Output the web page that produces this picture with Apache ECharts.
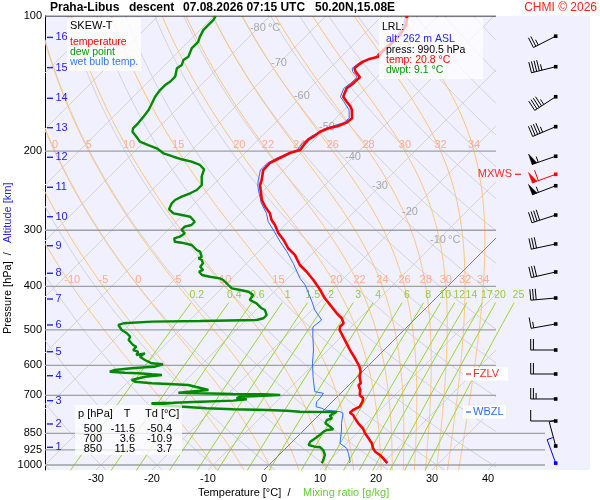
<!DOCTYPE html>
<html><head><meta charset="utf-8">
<script src="https://cdn.jsdelivr.net/npm/echarts@6/dist/echarts.min.js"></script>
<style>html,body{margin:0;padding:0;background:#fff}#c{width:600px;height:500px}</style>
</head><body><div id="c"></div>
<script>
// ---------------- DATA (pressure hPa, temperature °C) ----------------
const tempProfile = [[100,-55.5],[104.7,-54.1],[110.2,-53.4],[116.1,-53.4],[120.9,-53.6],[123.2,-53.4],[124.9,-54.7],[126.4,-55.2],[128.5,-55.5],[130.7,-55.6],[133.0,-54.8],[136.9,-53.0],[138.8,-53.1],[141.3,-53.1],[144.9,-53.4],[151.3,-52.5],[155.2,-51.0],[158.7,-49.6],[161.9,-48.6],[168.9,-47.1],[172.8,-47.3],[175.8,-48.2],[177.9,-49.5],[181.0,-50.4],[185.7,-50.7],[188.2,-51.1],[192.1,-51.0],[198.8,-50.7],[201.9,-52.0],[207.1,-52.9],[212.6,-53.8],[220.3,-53.7],[231.9,-52.2],[237.9,-51.6],[244.1,-50.6],[256.9,-48.6],[265.9,-46.8],[275.0,-44.8],[284.6,-43.3],[292.0,-41.8],[304.7,-39.7],[315.2,-37.6],[329.0,-35.3],[340.5,-32.9],[358.6,-30.2],[371.1,-27.8],[387.3,-25.1],[407.6,-22.1],[425.3,-19.8],[444.0,-17.1],[459.3,-15.0],[471.2,-13.2],[483.4,-12.0],[492.0,-12.0],[500.4,-11.5],[526.6,-8.8],[554.3,-6.1],[578.5,-3.7],[604.0,-1.4],[619.7,-0.3],[635.8,0.4],[657.7,1.8],[663.5,1.7],[680.7,2.9],[698.4,3.7],[710.3,4.9],[722.8,5.4],[741.6,5.8],[754.3,5.2],[764.8,5.1],[773.8,6.1],[787.1,7.0],[807.5,8.5],[828.4,10.2],[850.0,11.5],[872.1,13.0],[894.8,14.5],[917.9,15.6],[934.1,16.6],[950.0,18.0],[966.2,19.2],[990.5,20.8]];

const dewProfile = [[100,-89.7],[102.0,-89.4],[104.7,-89.4],[107.5,-89.4],[111.3,-88.8],[114.2,-88.2],[118.1,-88.2],[123.3,-87.3],[125.3,-87.6],[128.6,-87.0],[130.7,-87.3],[136.5,-86.1],[140.1,-86.1],[142.5,-86.4],[146.2,-86.4],[151.3,-86.1],[156.4,-85.5],[161.9,-84.9],[167.5,-84.6],[173.4,-84.4],[177.9,-84.4],[181.0,-83.9],[185.7,-82.3],[190.5,-80.8],[193.8,-78.7],[197.1,-76.6],[202.2,-74.5],[205.8,-72.1],[208.5,-70.2],[211.1,-68.0],[214.7,-65.9],[219.5,-64.4],[228.0,-63.5],[237.9,-62.0],[244.1,-62.0],[248.2,-62.6],[252.6,-63.5],[256.9,-64.1],[261.3,-64.1],[269.5,-63.5],[275.1,-62.0],[277.5,-60.2],[279.9,-58.4],[287.2,-56.7],[292.1,-56.7],[294.6,-57.6],[299.6,-57.6],[304.7,-56.4],[310.1,-56.7],[312.7,-57.4],[318.2,-56.7],[319.8,-55.3],[323.6,-53.1],[332.0,-51.3],[334.9,-50.4],[343.7,-49.2],[346.5,-49.5],[349.5,-48.6],[355.5,-47.8],[361.7,-47.7],[367.8,-46.6],[371.1,-47.0],[377.4,-45.9],[380.8,-44.2],[383.9,-42.1],[387.2,-41.2],[397.3,-39.4],[404.1,-38.2],[407.6,-36.4],[411.2,-34.6],[418.2,-33.2],[429.1,-32.9],[432.8,-32.0],[436.4,-31.1],[447.7,-29.3],[451.7,-28.4],[463.4,-27.2],[471.2,-27.2],[475.4,-28.1],[477.8,-38.0],[479.5,-46.5],[483.5,-51.3],[487.7,-51.9],[500.4,-50.4],[508.9,-48.9],[517.9,-47.7],[526.7,-47.4],[540.4,-45.7],[545.2,-44.8],[554.5,-44.8],[559.4,-43.6],[568.9,-43.3],[564.0,-42.1],[573.9,-42.4],[583.6,-40.9],[593.6,-39.1],[596.7,-36.9],[604.1,-37.9],[605.9,-39.6],[609.0,-41.8],[614.3,-44.5],[619.7,-45.1],[622.9,-42.2],[624.8,-39.7],[628.0,-37.1],[630.3,-35.2],[635.9,-37.9],[646.7,-39.7],[652.4,-38.8],[657.7,-35.5],[660.1,-32.4],[663.5,-28.7],[680.7,-24.2],[690.2,-29.1],[692.3,-25.1],[694.8,-19.1],[695.9,-13.6],[698.4,-10.5],[700.9,-13.4],[704.5,-17.4],[710.3,-17.7],[713.9,-15.7],[719.0,-17.9],[722.8,-23.6],[726.5,-28.2],[728.7,-32.0],[735.1,-30.8],[741.6,-25.7],[747.6,-21.3],[751.5,-16.3],[754.2,-10.2],[756.9,-6.5],[760.8,-4.0],[762.0,2.6],[767.1,2.3],[777.8,2.1],[787.0,2.9],[793.9,2.3],[807.4,2.6],[821.7,4.1],[832.7,5.1],[835.7,4.1],[843.0,3.8],[857.4,3.7],[872.0,3.5],[887.4,3.2],[902.5,3.5],[910.5,4.9],[913.2,6.0],[926.0,7.0],[950.0,8.2],[974.7,8.8],[990.5,9.1]];

const wetBulbProfile = [[100,-55.8],[104.7,-54.5],[110.2,-53.8],[116.1,-53.8],[120.9,-54.0],[123.2,-53.8],[126.4,-55.6],[130.7,-56.0],[133.0,-55.3],[136.9,-53.5],[141.3,-53.6],[144.9,-53.9],[151.3,-53.0],[155.2,-51.5],[161.9,-49.1],[168.9,-47.6],[172.8,-47.8],[177.9,-50.0],[185.7,-51.2],[192.1,-51.5],[198.8,-51.2],[207.1,-53.4],[212.6,-54.2],[220.3,-54.2],[231.9,-52.8],[237.9,-52.0],[244.1,-51.0],[261.3,-48.1],[275.0,-45.4],[287.1,-43.6],[299.6,-41.2],[318.1,-37.9],[334.9,-34.9],[355.4,-31.7],[383.9,-27.8],[397.2,-25.7],[414.5,-23.6],[432.7,-21.5],[451.6,-19.5],[463.3,-18.0],[475.4,-16.5],[479.6,-16.5],[492.8,-16.8],[513.3,-15.4],[554.3,-12.6],[593.5,-10.4],[635.8,-7.9],[657.7,-6.6],[686.7,-4.9],[692.3,-3.1],[710.3,-2.8],[722.8,-2.8],[741.6,-2.0],[747.7,-0.7],[754.3,0.2],[760.9,3.2],[767.2,4.0],[807.5,5.5],[835.7,6.7],[894.8,8.8],[917.9,10.9],[941.8,12.1],[983.2,13.9],[990.5,14.0]];

const pressureLines = [200, 300, 400, 500, 600, 700, 850, 925, 1000];
const pressureTicks = [100, 200, 300, 400, 500, 600, 700, 850, 925, 1000];
const tempTicks = [-30, -20, -10, 0, 10, 20, 30, 40];

const kmLevels   = [1, 2, 3, 4, 5, 6, 7, 8, 9, 10, 11, 12, 13, 14, 15, 16];
const kmPressure = [913.2, 810.3, 719.0, 632.6, 559.4, 487.7, 426.9, 374.1, 324.8, 279.9, 240.7, 206.4, 177.3, 152.5, 130.3, 111.6];

const isoLabelT = [-80, -70, -60, -50, -40, -30, -20, -10];
const isoLabelP = [106.4, 127.3, 150.8, 176.7, 206.1, 239.1, 273.3, 315.4];

const moistThetaW = [-10, -5, 0, 5, 10, 15, 20, 22, 24, 26, 28, 30, 32, 34];
const moistLabelP = [200, 400];
const mixingRatios = [0.2, 0.4, 0.6, 1, 1.5, 2, 3, 4, 6, 8, 10, 12, 14, 17, 20, 25];

const windPressure = [110.9, 129.7, 151.3, 176.4, 205.3, 225.2, 238.8, 277.5, 321.9, 371.6, 424.7, 485.2, 554.5, 627.1, 712.8, 798.0, 907.2, 990.5];
const windDir      = [243, 256, 237, 247, 251, 250, 249, 252, 258, 257, 265, 260, 270, 270, 270, 270, 345, 340];
const windSpeed    = [25, 45, 45, 45, 55, 60, 55, 40, 30, 30, 30, 15, 20, 20, 25, 10, 5, 5];
const windKind     = ['n','n','n','n','n','max','n','n','n','n','n','n','n','n','n','n','n','sfc'];

const levelNames    = ['MXWS', 'FZLV', 'WBZL'];
const levelPressure = [225.2, 627.1, 762.0];

const lrlLines = ['alt: 262 m ASL', 'press: 990.5 hPa', 'temp: 20.8 °C', 'dwpt: 9.1 °C'];
const tableRows = [['500', '-11.5', '-50.4'], ['700', '3.6', '-10.9'], ['850', '11.5', '3.7']];

// ---------------- DIAGRAM GEOMETRY ----------------
const FF = '"Liberation Sans", Arial, Helvetica, sans-serif';
const LPMIN = 2, LPMAX = 3 + 5 / 449;            // log10(p) at top / bottom of plot
const XMIN = -39.107, XMAX = 58.214;              // skewed temperature axis extent
const XRIGHT = 41.43, XRIGHT2 = 50.18;            // right end of diagram lines
const K = 449 / 5.6;                              // skew (°C per decade of pressure)
const LP = p => Math.log10(p);
const skewX = (T, p) => T + K * (LPMAX - Math.log10(p));

function clipX(pts, xmin, xmax) {
  const segs = []; let cur = [];
  for (let i = 0; i < pts.length; i++) {
    const a = pts[i], inA = a[0] >= xmin && a[0] <= xmax;
    if (i > 0) {
      const b = pts[i - 1], inB = b[0] >= xmin && b[0] <= xmax;
      if (inA !== inB) {
        const out = inB ? a : b;
        const edge = out[0] < xmin ? xmin : xmax;
        const t = (edge - b[0]) / (a[0] - b[0]);
        const q = [edge, b[1] + t * (a[1] - b[1])];
        if (inB) { cur.push(q); if (cur.length > 1) segs.push(cur); cur = []; }
        else { cur = [q]; }
      }
    }
    if (inA) cur.push(a);
  }
  if (cur.length > 1) segs.push(cur);
  return segs;
}

// isotherms
const isoSegs = [], iso0Segs = [];
for (let T = -120; T <= 40; T += 10) {
  const pts = [[T, LPMAX], [T + K * (LPMAX - LPMIN), LPMIN]];
  const s = clipX(pts, XMIN, XRIGHT);
  (T === 0 ? iso0Segs : isoSegs).push(...s);
}
// dry adiabats
const dryS = [];
for (let th = -40; th <= 180; th += 10) {
  const pts = [];
  for (let i = 0; i <= 120; i++) {
    const lp = LPMAX - (LPMAX - LPMIN) * i / 120;
    const p = Math.pow(10, lp);
    const T = (th + 273.15) * Math.pow(p / 1000, 0.2857) - 273.15;
    pts.push([skewX(T, p), lp]);
  }
  dryS.push(...clipX(pts, XMIN, XRIGHT));
}
// moist (pseudo) adiabats
function es(Tc) { return 6.112 * Math.exp(17.67 * Tc / (Tc + 243.5)); }
function lapse(p, TK) {
  const e = es(TK - 273.15), rs = 0.622 * e / (p - e);
  const Rd = 287.04, Cp = 1005.7, L = 2.501e6;
  return (Rd * TK + L * rs) / (p * (Cp + L * L * rs * 0.622 / (Rd * TK * TK)));
}
function moistCurve(tw) {
  const down = []; let T = tw + 273.15, p = 1000;
  while (p < 1030) { const h = 2, k1 = lapse(p, T), k2 = lapse(p + h / 2, T + k1 * h / 2); T += k2 * h; p += h; down.push([p, T - 273.15]); }
  const res = down.reverse(); res.push([1000, tw]);
  T = tw + 273.15; p = 1000;
  while (p > 100.0001) { const h = -1, k1 = lapse(p, T), k2 = lapse(p + h / 2, T + k1 * h / 2); T += k2 * h; p += h; res.push([p, T - 273.15]); }
  return res;
}
const moistS = [], moistLabels = [];
moistThetaW.forEach(tw => {
  const c = moistCurve(tw);
  const pts = c.filter((r, i) => i % 4 === 0 || i === c.length - 1).map(r => [skewX(r[1], r[0]), LP(r[0])]);
  moistS.push(...clipX(pts, XMIN, XRIGHT));
  moistLabelP.forEach(pl => {
    const r = c.find(q => Math.abs(q[0] - pl) < 0.01);
    const X = skewX(r[1], pl);
    if (X > XMIN + 1.2 && X < XRIGHT) moistLabels.push({ x: X, y: LP(pl), text: String(tw), color: '#ffab8c', font: '11px ' + FF, va: 'bottom', dy: -1 });
  });
});
// mixing ratio lines
function tdFromW(w, p) { const e = w * p / (622 + w); const l = Math.log(e / 6.112); return 243.5 * l / (17.67 - l); }
const mixS = [], mixLabels = [];
mixingRatios.forEach(w => {
  const pts = [];
  for (let i = 0; i <= 12; i++) { const p = 1030 - (1030 - 435) * i / 12; pts.push([skewX(tdFromW(w, p), p), LP(p)]); }
  mixS.push(pts);
  mixLabels.push({ x: skewX(tdFromW(w, 418), 418), y: LP(418), text: String(w), color: '#99cc33', font: '10.5px ' + FF, va: 'middle' });
});
// isotherm labels
const isoLabels = [];
isoLabelT.forEach((T, i) => {
  const p = isoLabelP[i];
  isoLabels.push({ x: skewX(T, p), y: LP(p), text: String(T), color: '#a8a8a8', font: '11px ' + FF, va: 'middle' });
  if (T === -80 || T === -10) isoLabels.push({ x: skewX(T, p), y: LP(p), text: '°C', color: '#a8a8a8', font: '11px ' + FF, va: 'middle', align: 'left', dx: 10 });
});

function textSeries(items, z) {
  return {
    type: 'custom', coordinateSystem: 'cartesian2d', silent: true, z: z,
    data: items.map(it => [it.x, it.y]),
    renderItem: (params, api) => {
      const it = items[params.dataIndex];
      const c = api.coord([it.x, it.y]);
      const al = it.align || 'center', va = it.va || 'middle';
      return { type: 'text', x: c[0] + (it.dx || 0), y: c[1] + (it.dy || 0),
        style: { text: it.text, fill: it.color, font: it.font, align: al, verticalAlign: va, textAlign: al, textVerticalAlign: va } };
    }
  };
}
function linesSeries(segs, color, width, z) {
  return { type: 'lines', coordinateSystem: 'cartesian2d', polyline: true, silent: true, clip: true, z: z,
    lineStyle: { color: color, width: width, opacity: 1, curveness: 0 },
    data: segs.map(s => ({ coords: s })) };
}
function profileSeries(data, color, width, z) {
  return { type: 'line', data: data.map(([p, T]) => [skewX(T, p), LP(p)]), showSymbol: false, symbol: 'none',
    lineStyle: { color: color, width: width }, itemStyle: { color: color }, silent: true, z: z, clip: true };
}

const hSegs = pressureLines.map(p => [[XMIN, LP(p)], [p >= 850 ? XRIGHT2 : XRIGHT, LP(p)]]);

// wind barbs
const barbSeries = {
  type: 'custom', coordinateSystem: 'cartesian2d', silent: true, z: 30,
  data: windPressure.map(p => [XRIGHT, LP(p)]),
  renderItem: (params, api) => {
    const i = params.dataIndex;
    const y = api.coord([XRIGHT, api.value(1)])[1];
    const cs = params.coordSys;
    const x0 = cs.x + cs.width - 34.3;
    const col = windKind[i] === 'max' ? '#ff0000' : (windKind[i] === 'sfc' ? '#0000ff' : '#000000');
    const d = windDir[i] * Math.PI / 180, ux = Math.sin(d), uy = -Math.cos(d), bx = -uy, by = ux;
    const L = 25;
    const P = s => [x0 + ux * s, y + uy * s];
    const ch = [{ type: 'line', shape: { x1: x0, y1: y, x2: P(L)[0], y2: P(L)[1] }, style: { stroke: col, lineWidth: 1 } }];
    let s = windSpeed[i]; let pos = L;
    const pen = Math.floor(s / 50); s -= pen * 50; const full = Math.floor(s / 10); s -= full * 10; const half = s >= 5;
    for (let k = 0; k < pen; k++) {
      const a = P(pos), b = P(pos - 5);
      ch.push({ type: 'polygon', shape: { points: [a, [a[0] + bx * 11, a[1] + by * 11], b] }, style: { fill: col, stroke: col, lineWidth: 0.5 } });
      pos -= 6.5;
    }
    for (let k = 0; k < full; k++) {
      const a = P(pos);
      ch.push({ type: 'line', shape: { x1: a[0], y1: a[1], x2: a[0] + bx * 11, y2: a[1] + by * 11 }, style: { stroke: col, lineWidth: 1 } });
      pos -= 2.7;
    }
    if (half) {
      const a = P(pos);
      ch.push({ type: 'line', shape: { x1: a[0], y1: a[1], x2: a[0] + bx * 6, y2: a[1] + by * 6 }, style: { stroke: col, lineWidth: 1 } });
    }
    ch.push({ type: 'rect', shape: { x: x0 - 1.8, y: y - 1.8, width: 3.6, height: 3.6 }, style: { fill: col } });
    return { type: 'group', children: ch };
  }
};

// special levels (MXWS, FZLV, WBZL)
const levelSeries = {
  type: 'custom', coordinateSystem: 'cartesian2d', silent: true, z: 35,
  data: levelPressure.map(p => [XRIGHT, LP(p)]),
  renderItem: (params, api) => {
    const i = params.dataIndex;
    const y = api.coord([XRIGHT, api.value(1)])[1];
    const cs = params.coordSys;
    const name = levelNames[i];
    if (name === 'MXWS') {
      const xr = cs.x + cs.width - 78;
      return { type: 'group', children: [
        { type: 'line', shape: { x1: xr + 3, y1: y, x2: xr + 9, y2: y }, style: { stroke: '#ff2a2a', lineWidth: 1.3 } },
        { type: 'text', x: xr, y: y, style: { text: name, fill: '#ff2a2a', font: '11px ' + FF, align: 'right', verticalAlign: 'middle', textAlign: 'right', textVerticalAlign: 'middle' } }
      ] };
    }
    const col = name === 'FZLV' ? '#ff2a2a' : '#2a6cff';
    const xl = cs.x + cs.width - 127;
    return { type: 'group', children: [
      { type: 'rect', shape: { x: xl, y: y - 6.5, width: name === 'FZLV' ? 45 : 43, height: 13 }, style: { fill: '#ffffff' } },
      { type: 'line', shape: { x1: xl + 3, y1: y, x2: xl + 8, y2: y }, style: { stroke: col, lineWidth: 1.3 } },
      { type: 'text', x: xl + 10, y: y, style: { text: name, fill: col, font: '11px ' + FF, align: 'left', verticalAlign: 'middle', textAlign: 'left', textVerticalAlign: 'middle' } }
    ] };
  }
};

// altitude (km) labels
const kmSeries = {
  type: 'custom', coordinateSystem: 'cartesian2d', silent: true, z: 25,
  data: kmPressure.map(p => [XMIN, LP(p)]),
  renderItem: (params, api) => {
    const c = api.coord([XMIN, api.value(1)]);
    const x0 = params.coordSys.x;
    return { type: 'group', children: [
      { type: 'line', shape: { x1: x0 + 2, y1: c[1], x2: x0 + 8, y2: c[1] }, style: { stroke: '#2222ee', lineWidth: 1.4 } },
      { type: 'text', x: x0 + 10.5, y: c[1], style: { text: String(kmLevels[params.dataIndex]), fill: '#2222ee', font: '11px ' + FF, align: 'left', verticalAlign: 'middle', textAlign: 'left', textVerticalAlign: 'middle' } }
    ] };
  }
};

function gtext(x, y, text, fill, font, align, extra) {
  return Object.assign({ type: 'text', x: x, y: y, z: 110, silent: true,
    style: { text: text, fill: fill, font: font, textAlign: align || 'left', textVerticalAlign: 'middle', align: align || 'left', verticalAlign: 'middle' } }, extra || {});
}
const graphics = [
  gtext(50, 7.5, 'Praha-Libus', '#000', 'bold 12px ' + FF),
  gtext(129, 7.5, 'descent', '#000', 'bold 12px ' + FF),
  gtext(183, 7.5, '07.08.2026 07:15 UTC', '#000', 'bold 12px ' + FF),
  gtext(315, 7.5, '50.20N,15.08E', '#000', 'bold 12px ' + FF),
  gtext(597, 7.5, 'CHMI © 2026', '#ff2020', '12px ' + FF, 'right'),
  { type: 'rect', z: 100, silent: true, shape: { x: 67, y: 18, width: 74, height: 53 }, style: { fill: 'rgba(255,255,255,0.8)' } },
  gtext(70, 26, 'SKEW-T', '#000', '11px ' + FF),
  gtext(70, 42, 'temperature', '#ff0000', '10.5px ' + FF),
  gtext(70, 52, 'dew point', '#009900', '10.5px ' + FF),
  gtext(70, 62, 'wet bulb temp.', '#3377ff', '10.5px ' + FF),
  { type: 'rect', z: 100, silent: true, shape: { x: 379, y: 18, width: 104, height: 61 }, style: { fill: 'rgba(255,255,255,0.72)' } },
  gtext(382, 27.5, 'LRL:', '#000', '10.5px ' + FF),
  gtext(386, 39.5, lrlLines[0], '#2222ff', '10.5px ' + FF),
  gtext(386, 50, lrlLines[1], '#000', '10.5px ' + FF),
  gtext(386, 60, lrlLines[2], '#ff0000', '10.5px ' + FF),
  gtext(386, 70, lrlLines[3], '#009900', '10.5px ' + FF),
  { type: 'rect', z: 100, silent: true, shape: { x: 75, y: 405, width: 107, height: 50 }, style: { fill: 'rgba(255,255,255,0.75)' } },
  gtext(78, 413.5, 'p [hPa]', '#000', '11px ' + FF),
  gtext(127, 413.5, 'T', '#000', '11px ' + FF, 'center'),
  gtext(145, 413.5, 'Td [°C]', '#000', '11px ' + FF),
  gtext(198, 493, 'Temperature [°C]  /', '#000', '11px ' + FF),
  gtext(303, 493, 'Mixing ratio [g/kg]', '#66cc33', '11px ' + FF),
  gtext(8, 334, 'Pressure [hPa]  /', '#000', '11px ' + FF, 'left', { rotation: Math.PI / 2 }),
  gtext(8, 243, 'Altitude [km]', '#2222ff', '11px ' + FF, 'left', { rotation: Math.PI / 2 })
];
tableRows.forEach((r, i) => {
  const y = 428.5 + i * 10;
  graphics.push(gtext(102, y, r[0], '#000', '11px ' + FF, 'right'));
  graphics.push(gtext(135, y, r[1], '#000', '11px ' + FF, 'right'));
  graphics.push(gtext(172, y, r[2], '#000', '11px ' + FF, 'right'));
});

const chart = echarts.init(document.getElementById('c'), null, { renderer: 'canvas' });
chart.setOption({
  animation: false,
  backgroundColor: '#ffffff',
  grid: { left: 45, top: 16, width: 545, height: 454, show: true, backgroundColor: '#f0f0ff', borderWidth: 0 },
  xAxis: { type: 'value', min: XMIN, max: XMAX,
    axisLine: { show: false, onZero: false }, axisTick: { show: false, customValues: tempTicks }, splitLine: { show: false },
    axisLabel: { customValues: tempTicks, formatter: v => String(Math.round(v)), color: '#000', fontSize: 11, fontFamily: FF, margin: 3 } },
  yAxis: { type: 'value', inverse: true, min: LPMIN, max: LPMAX,
    axisLine: { show: true, onZero: false, lineStyle: { color: '#000', width: 1 } }, axisTick: { show: false, customValues: pressureTicks.map(LP) }, splitLine: { show: false },
    axisLabel: { customValues: pressureTicks.map(LP), formatter: v => String(Math.round(Math.pow(10, v))), color: '#000', fontSize: 11, fontFamily: FF, margin: 3 } },
  graphic: graphics,
  series: [
    linesSeries(isoSegs, '#d2d2d8', 1, 3),
    linesSeries(dryS, '#d2d2d8', 1, 3),
    linesSeries(moistS, '#ffc47a', 1, 4),
    linesSeries(mixS, '#9ad62e', 1, 5),
    linesSeries(iso0Segs, '#808080', 1, 6),
    linesSeries(hSegs, '#a0a0a0', 1.3, 7),
    linesSeries([[[XMIN, LPMIN], [XRIGHT, LPMIN]]], '#000000', 1.2, 8),
    textSeries(isoLabels, 9),
    textSeries(moistLabels, 9),
    textSeries(mixLabels, 9),
    profileSeries(wetBulbProfile, '#2f6bff', 1, 10),
    profileSeries(dewProfile, '#008a00', 2.4, 11),
    profileSeries(tempProfile, '#ff0000', 2.6, 12),
    kmSeries, barbSeries, levelSeries
  ]
});
</script></body></html>
